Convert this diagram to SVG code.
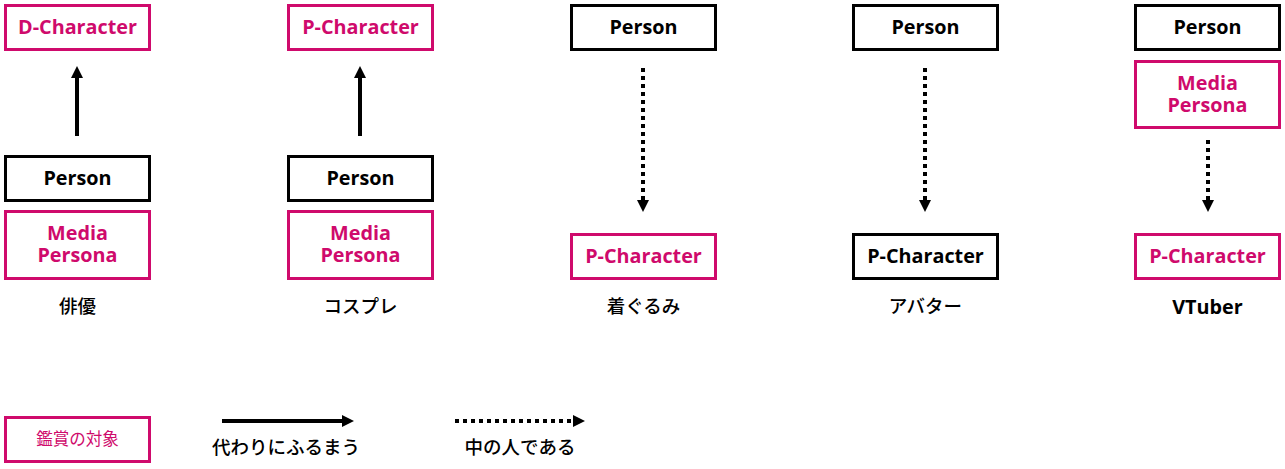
<svg xmlns="http://www.w3.org/2000/svg" width="1285" height="469" viewBox="0 0 1285 469">
<style>
.b{fill:#fff;stroke:#000;stroke-width:3}
.m{fill:#fff;stroke:#cf0a6c;stroke-width:3}
.t{font-family:"Open Sans","Noto Sans",sans-serif;font-weight:700;font-size:19.8px;text-anchor:middle}
.tk{fill:#000}
.tm{fill:#cf0a6c}
.j{font-family:"Noto Sans CJK JP",sans-serif;font-weight:500;font-size:18.5px;text-anchor:middle;fill:#000}
.s{stroke:#000;stroke-width:4;fill:none}
.d{stroke:#000;stroke-width:4;fill:none;stroke-dasharray:4 4}
</style>
<defs>
<marker id="ah" viewBox="0 0 12 12" refX="0" refY="6" markerWidth="12" markerHeight="12" markerUnits="userSpaceOnUse" orient="auto">
<path d="M0,0 L12,6 L0,12 Z" fill="#000"/>
</marker>
</defs>
<g id="connectors">
<line class="s" x1="77" y1="136" x2="77" y2="78" marker-end="url(#ah)"/>
<line class="s" x1="360" y1="136" x2="360" y2="78" marker-end="url(#ah)"/>
<line class="d" x1="643" y1="68" x2="643" y2="200" marker-end="url(#ah)"/>
<line class="d" x1="925" y1="68" x2="925" y2="200" marker-end="url(#ah)"/>
<line class="d" x1="1208" y1="140" x2="1208" y2="200" marker-end="url(#ah)"/>
<line class="s" x1="222" y1="421" x2="342" y2="421" marker-end="url(#ah)"/>
<line class="d" x1="455" y1="421" x2="573" y2="421" marker-end="url(#ah)"/>
</g>
<g id="n1-dchar"><rect class="m" x="5.5" y="5.5" width="144" height="44"/><text class="t tm" x="77.5" y="34">D-Character</text></g>
<g id="n1-person"><rect class="b" x="5.5" y="156.5" width="144" height="44"/><text class="t tk" x="77.5" y="185">Person</text></g>
<g id="n1-media"><rect class="m" x="5.5" y="211.5" width="144" height="67"/><text class="t tm" x="77.5" y="240">Media<tspan x="77.5" dy="22">Persona</tspan></text></g>
<g id="n1-label"><text class="j" x="77.5" y="313">俳優</text></g>

<g id="n2-pchar"><rect class="m" x="288.5" y="5.5" width="144" height="44"/><text class="t tm" x="360.5" y="34">P-Character</text></g>
<g id="n2-person"><rect class="b" x="288.5" y="156.5" width="144" height="44"/><text class="t tk" x="360.5" y="185">Person</text></g>
<g id="n2-media"><rect class="m" x="288.5" y="211.5" width="144" height="67"/><text class="t tm" x="360.5" y="240">Media<tspan x="360.5" dy="22">Persona</tspan></text></g>
<g id="n2-label"><text class="j" x="360.5" y="313">コスプレ</text></g>

<g id="n3-person"><rect class="b" x="571.5" y="5.5" width="144" height="44"/><text class="t tk" x="643.5" y="34">Person</text></g>
<g id="n3-pchar"><rect class="m" x="571.5" y="234.5" width="144" height="44"/><text class="t tm" x="643.5" y="263">P-Character</text></g>
<g id="n3-label"><text class="j" x="643.5" y="313">着ぐるみ</text></g>

<g id="n4-person"><rect class="b" x="853.5" y="5.5" width="144" height="44"/><text class="t tk" x="925.5" y="34">Person</text></g>
<g id="n4-pchar"><rect class="b" x="853.5" y="234.5" width="144" height="44"/><text class="t tk" x="925.5" y="263">P-Character</text></g>
<g id="n4-label"><text class="j" x="925.5" y="313">アバター</text></g>

<g id="n5-person"><rect class="b" x="1135.5" y="5.5" width="144" height="44"/><text class="t tk" x="1207.5" y="34">Person</text></g>
<g id="n5-media"><rect class="m" x="1135.5" y="61.5" width="144" height="66"/><text class="t tm" x="1207.5" y="90">Media<tspan x="1207.5" dy="22">Persona</tspan></text></g>
<g id="n5-pchar"><rect class="m" x="1135.5" y="234.5" width="144" height="44"/><text class="t tm" x="1207.5" y="263">P-Character</text></g>
<g id="n5-label"><text class="t tk" x="1207.5" y="314">VTuber</text></g>

<g id="legend-box"><rect class="m" x="5.5" y="417.5" width="144" height="44"/><text class="j" style="fill:#cf0a6c;font-size:16.5px;font-weight:400" x="77.5" y="445">鑑賞の対象</text></g>
<g id="legend-solid"><text class="j" x="286" y="454">代わりにふるまう</text></g>
<g id="legend-dotted"><text class="j" x="520" y="454">中の人である</text></g>
</svg>
